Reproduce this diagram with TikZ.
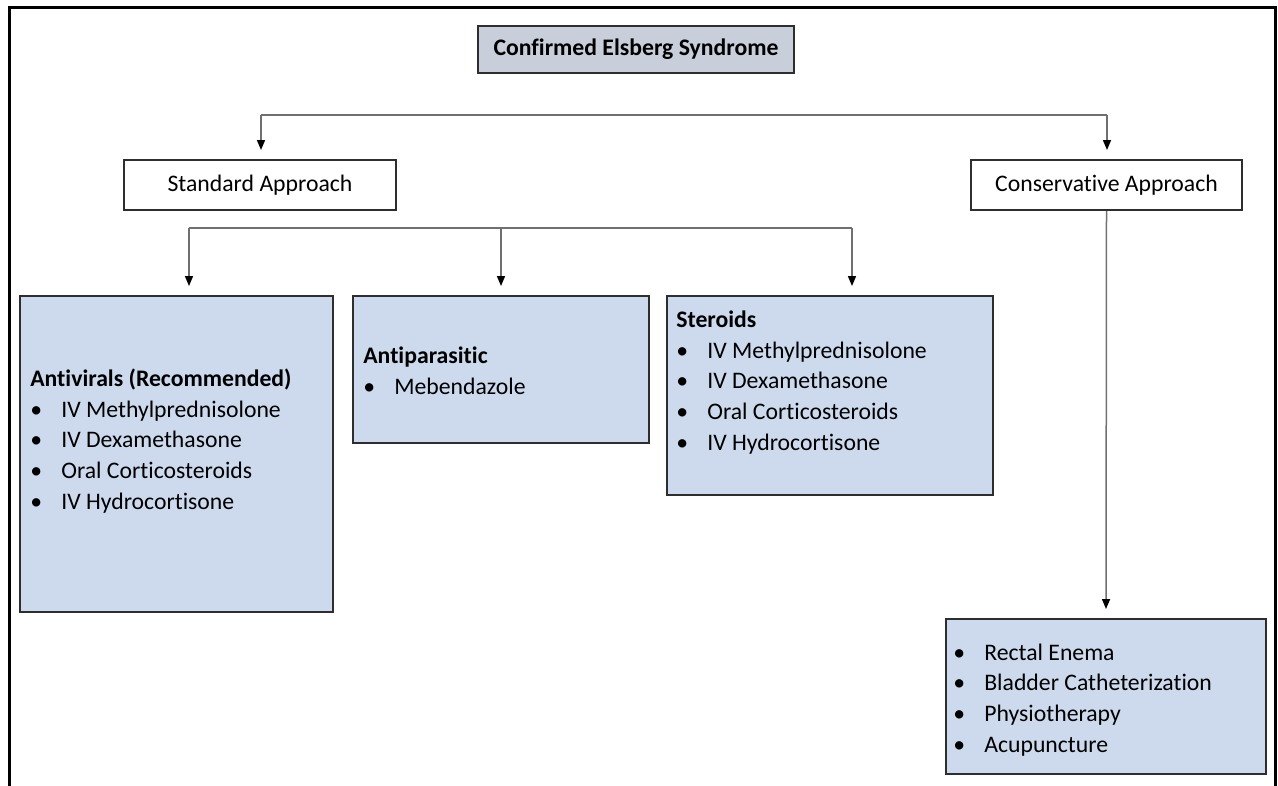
\documentclass[tikz,border=0pt]{standalone}
\usepackage{fontspec}
\setmainfont{Carlito}[Ligatures=NoCommon]
\usetikzlibrary{arrows.meta}
\definecolor{boxblue}{HTML}{CDDAEE}
\definecolor{titlegray}{HTML}{C8CFDB}
\definecolor{edgegray}{HTML}{2E2E2E}
\definecolor{linegray}{HTML}{707070}
\newcommand{\bitem}[1]{\makebox[0.62cm][l]{\textbullet}#1}

\begin{document}
\begin{tikzpicture}[x=0.02cm, y=-0.02cm,
    font=\fontsize{13.5}{17.5}\selectfont,
    headbox/.style={draw=edgegray, line width=0.04cm, inner sep=0pt, align=center},
    listbox/.style={draw=edgegray, line width=0.04cm, fill=boxblue, inner sep=0pt},
    listtext/.style={inner sep=0pt, align=left, anchor=west},
    conn/.style={draw=linegray, line width=0.03cm},
    arr/.style={conn, -{Triangle[width=0.16cm,length=0.2cm,black]}, shorten >=0.18cm}]
    
    % page frame
    \useasboundingbox (0,0) rectangle (1278,785);
    \clip (0,0) rectangle (1278,785);
    \draw [line width=0.06cm] (9.5,7) rectangle (1275.5,800);
    
    % top level
    \node [headbox, fill=titlegray, minimum width=6.32cm, minimum height=0.94cm, font=\fontsize{13.5}{17.5}\selectfont\bfseries] (confirmed) at (636,49.5) {Confirmed Elsberg Syndrome};
    
    \node [headbox, minimum width=5.44cm, minimum height=1.0cm] (standard) at (260,185) {Standard Approach};
    \node [headbox, minimum width=5.42cm, minimum height=1.0cm] (conservative) at (1106.5,185) {Conservative Approach};
    
    % treatment boxes
    \node [listbox, minimum width=6.26cm, minimum height=6.32cm] (antiviral) at (176.5,454) {};
    \node [listbox, minimum width=5.92cm, minimum height=2.94cm] (antiparasitic) at (501,369.5) {};
    \node [listbox, minimum width=6.52cm, minimum height=3.98cm] (steroid) at (830,395.5) {};
    \node [listbox, minimum width=6.40cm, minimum height=3.10cm] (supportive) at (1106,696.5) {};
    
    % box texts
    \node [listtext] (antiviraltxt) at (30,441) {\textbf{Antivirals (Recommended)}\\
        \bitem{IV Methylprednisolone}\\ \bitem{IV Dexamethasone}\\
        \bitem{Oral Corticosteroids}\\ \bitem{IV Hydrocortisone}};
    \node [listtext] (antiparasitictxt) at (363,370.5) {\textbf{Antiparasitic}\\
        \bitem{Mebendazole}};
    \node [listtext] (steroidtxt) at (676,382.5) {\textbf{Steroids}\\
        \bitem{IV Methylprednisolone}\\ \bitem{IV Dexamethasone}\\
        \bitem{Oral Corticosteroids}\\ \bitem{IV Hydrocortisone}};
    \node [listtext] (supportivetxt) at (953,700) {\bitem{Rectal Enema}\\
        \bitem{Bladder Catheterization}\\ \bitem{Physiotherapy}\\
        \bitem{Acupuncture}};
    
    % first split
    \coordinate (stdfork) at (261,115);
    \coordinate (consfork) at (1107,115);
    \draw [conn] (stdfork) -- (consfork);
    \draw [arr] (stdfork) -- (stdfork |- standard.north);
    \draw [arr] (consfork) -- (consfork |- conservative.north);
    
    % second split
    \coordinate (avfork) at (189,228);
    \coordinate (stfork) at (852,228);
    \draw [conn] (avfork) -- (stfork);
    \draw [arr] (avfork) -- (avfork |- antiviral.north);
    \draw [arr] (antiparasitic.north |- avfork) -- (antiparasitic.north);
    \draw [arr] (stfork) -- (stfork |- steroid.north);
    
    % conservative branch
    \draw [arr] (conservative.south) -- (supportive.north);
    
\end{tikzpicture}
\end{document}
